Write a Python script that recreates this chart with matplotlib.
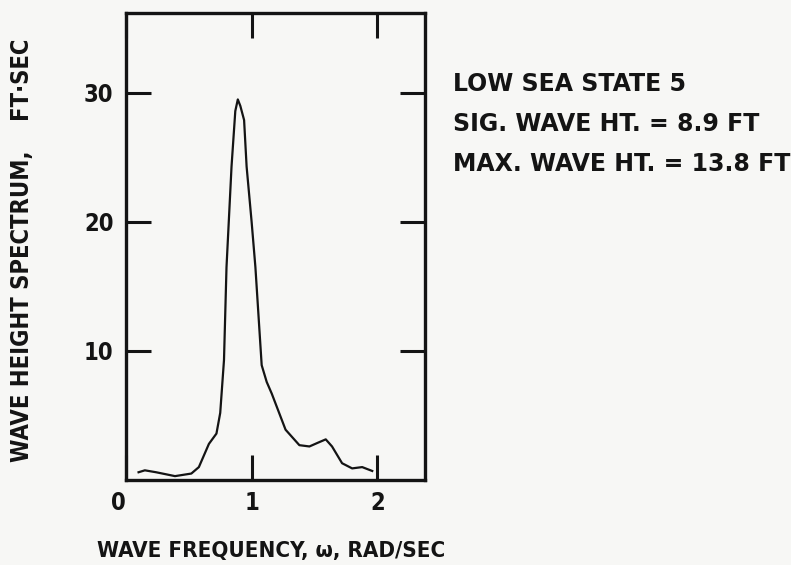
import matplotlib
matplotlib.use("Agg")
from matplotlib import pyplot as plt

# ─────────────────────────────────────────────────────────────────
# DATA
# ─────────────────────────────────────────────────────────────────

omega = [0.10, 0.15, 0.24, 0.39, 0.52, 0.58, 0.66, 0.72, 0.75, 0.78,
         0.80, 0.84, 0.87, 0.89, 0.91, 0.94, 0.96, 1.00, 1.03, 1.08,
         1.12, 1.16, 1.27, 1.38, 1.46, 1.53, 1.59, 1.64, 1.72, 1.80,
         1.88, 1.96]
spectrum = [0.6, 0.75, 0.6, 0.3, 0.5, 1.0, 2.8, 3.6, 5.2, 9.3,
            16.5, 24.3, 28.6, 29.5, 29.0, 27.9, 24.3, 20.0, 16.5, 8.9,
            7.6, 6.7, 3.9, 2.7, 2.6, 2.9, 3.15, 2.6, 1.3, 0.9,
            1.0, 0.7]

x_ticks = [0, 1, 2]
y_ticks = [10, 20, 30]

notes = ["LOW SEA STATE 5",
         "SIG. WAVE HT. = 8.9 FT",
         "MAX. WAVE HT. = 13.8 FT"]

X_LABEL = "WAVE FREQUENCY, \u03c9, RAD/SEC"
Y_LABEL = "WAVE HEIGHT SPECTRUM,    FT\u00b7SEC"

# ─────────────────────────────────────────────────────────────────
# STYLE
# ─────────────────────────────────────────────────────────────────

INK = "#141414"
PAPER = "#f7f7f5"
plt.rcParams["font.family"] = ["DejaVu Sans"]
plt.rcParams["font.weight"] = "bold"
COND = dict(color=INK, fontweight="bold", fontstretch="condensed")
WIDE = dict(color=INK, fontweight="bold")

W, H = 791, 565
fig = plt.figure(figsize=(W / 100, H / 100), dpi=100, facecolor=PAPER)

# axes box in pixel coords of the reference
left, right, top, bottom = 126, 425, 13, 480
ax = fig.add_axes([left / W, 1 - bottom / H, (right - left) / W, (bottom - top) / H])
ax.set_facecolor(PAPER)

ax.plot(omega, spectrum, color=INK, lw=1.6, solid_joinstyle="round")

ax.set_xlim(0, 2.38)
ax.set_ylim(0, 36.2)

for s in ax.spines.values():
    s.set_linewidth(2.4)
    s.set_color(INK)

ax.set_xticks(x_ticks)
ax.set_xticklabels([str(t) for t in x_ticks], fontsize=17, **COND)
ax.get_xticklabels()[0].set_ha("right")
ax.set_yticks(y_ticks)
ax.set_yticklabels([str(t) for t in y_ticks], fontsize=17, **COND)
for lbl in ax.get_yticklabels():
    lbl.set_va("center_baseline")
ax.tick_params(axis="both", direction="in", length=18, width=2.2, color=INK,
               top=True, right=True)
ax.tick_params(axis="y", pad=9)
ax.tick_params(axis="x", pad=8)

fig.text(271 / W, 1 - 551 / H, X_LABEL, ha="center", va="center",
         fontsize=16, **COND)
fig.text(22 / W, 1 - 250 / H, Y_LABEL, ha="center", va="center",
         rotation=90, fontsize=17, **COND)

for i, line in enumerate(notes):
    fig.text(453 / W, 1 - (84 + 40 * i) / H, line, ha="left", va="center",
             fontsize=17, **WIDE)

fig.savefig("out.png", dpi=100, facecolor=PAPER)
